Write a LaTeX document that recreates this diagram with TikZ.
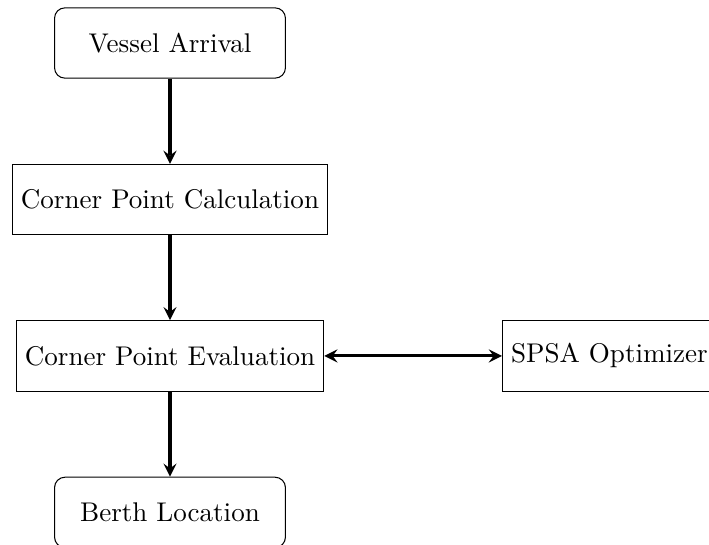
\documentclass[tikz,border=0pt]{standalone}
\usepackage{tikz}
\usetikzlibrary{positioning}

\begin{document}
\begin{tikzpicture}[
    font=\fontsize{10.4pt}{12.5pt}\selectfont,
    node distance=1.15cm and 2.4cm,
    process/.style={draw, minimum height=0.95cm},
    terminal/.style={draw, rounded corners=4pt, minimum height=0.95cm, minimum width=3.12cm},
    flow/.style={-stealth, very thick}
]
\useasboundingbox (0,0) rectangle (9.58,-7.36);

\node[terminal] (arrival) at (2.297,-0.581) {Vessel Arrival};
\node[process, below=of arrival] (calc) {Corner Point Calculation};
\node[process, below=of calc] (eval) {Corner Point Evaluation};
\node[terminal, below=of eval] (berth) {Berth Location};
\node[process, right=of eval] (spsa) {SPSA Optimizer};

\draw[flow] (arrival) -- (calc);
\draw[flow] (calc) -- (eval);
\draw[flow] (eval) -- (berth);
\draw[flow, stealth-stealth] (eval) -- (spsa);

\end{tikzpicture}
\end{document}
